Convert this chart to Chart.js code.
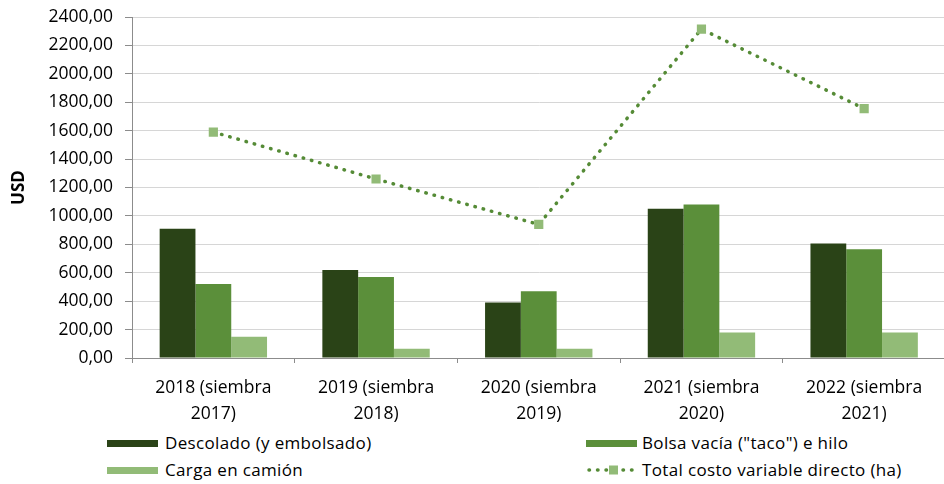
<!DOCTYPE html>
<html>
<head>
<meta charset="utf-8">
<script src="https://cdn.jsdelivr.net/npm/chart.js@4"></script>
<style>
  html, body { margin: 0; padding: 0; background: #fff; overflow: hidden; }
  #wrap { position: relative; width: 944px; height: 484px; overflow: hidden; }
  #chart { position: absolute; left: 0; top: 0; }
  .leg { position: absolute; font-family: "Open Sans", sans-serif; font-size: 17px; letter-spacing: 0.35px; color: #000; line-height: 20px; white-space: nowrap; }
  .box { position: absolute; height: 7px; width: 51px; }
</style>
</head>
<body>
<div id="wrap">
  <canvas id="chart" width="952" height="425"></canvas>
  <div class="box" style="left:107px;top:440px;background:#2a4317"></div>
  <div class="leg" style="left:165px;top:433px">Descolado (y embolsado)</div>
  <div class="box" style="left:107px;top:467px;background:#92bb77"></div>
  <div class="leg" style="left:165px;top:460px">Carga en camión</div>
  <div class="box" style="left:586px;top:440px;background:#5b8f3a"></div>
  <div class="leg" style="left:642px;top:433px">Bolsa vacía ("taco") e hilo</div>
  <canvas id="legline" width="52" height="14" style="position:absolute;left:586px;top:463px"></canvas>
  <div class="leg" style="left:642px;top:460px">Total costo variable directo (ha)</div>
</div>
<script>
const categories = [
  ["2018 (siembra", "2017)"],
  ["2019 (siembra", "2018)"],
  ["2020 (siembra", "2019)"],
  ["2021 (siembra", "2020)"],
  ["2022 (siembra", "2021)"],
];
const descolado = [910, 620, 390, 1050, 805];
const bolsaVacia = [520, 570, 470, 1080, 765];
const cargaCamion = [150, 65, 65, 180, 180];
const totalCosto = [1590, 1260, 940, 2315, 1755];

const DARK = "#2a4317";
const MID = "#5b8f3a";
const LIGHT = "#92bb77";
const LINE = "#558b36";

function fmt(v) {
  return v.toFixed(2).replace(".", ",");
}

const ctx = document.getElementById("chart");
const myChart = new Chart(ctx, {
  type: "bar",
  data: {
    labels: categories,
    datasets: [
      {
        type: "line",
        label: "Total costo variable directo (ha)",
        data: totalCosto,
        borderColor: LINE,
        borderWidth: 3.5,
        borderDash: [0.5, 8],
        borderCapStyle: "round",
        fill: false,
        pointStyle: "rect",
        pointRadius: 6.5,
        pointBackgroundColor: LIGHT,
        pointBorderWidth: 0,
        tension: 0,
        order: 0,
      },
      { label: "Descolado (y embolsado)", data: descolado, backgroundColor: DARK, order: 1 },
      { label: 'Bolsa vacía ("taco") e hilo', data: bolsaVacia, backgroundColor: MID, order: 1 },
      { label: "Carga en camión", data: cargaCamion, backgroundColor: LIGHT, order: 1 },
    ],
  },
  options: {
    responsive: false,
    animation: false,
    devicePixelRatio: 1,
    categoryPercentage: 0.66,
    barPercentage: 1,
    layout: { padding: { top: 17, right: 2, left: 0, bottom: 0 } },
    plugins: {
      legend: { display: false },
      tooltip: { enabled: false },
    },
    scales: {
      x: {
        grid: {
          display: true,
          drawOnChartArea: false,
          drawTicks: true,
          tickLength: 5,
          tickColor: "#8c8c8c",
          offset: true,
        },
        border: { color: "#8c8c8c", width: 1 },
        ticks: {
          color: "#000",
          padding: 12,
          maxRotation: 0,
          autoSkip: false,
          font: { family: "Open Sans", size: 17.5, lineHeight: 1.5 },
        },
        afterFit: (s) => { s.height = 67; },
      },
      y: {
        min: 0,
        max: 2400,
        ticks: {
          stepSize: 200,
          color: "#000",
          padding: 12,
          font: { family: "Open Sans", size: 17.5 },
          callback: (v) => fmt(v),
        },
        grid: {
          color: "#d6d6d6",
          lineWidth: 1,
          tickLength: 7,
          tickColor: "#8c8c8c",
        },
        border: { color: "#8c8c8c", width: 1 },
        title: {
          display: true,
          text: "USD",
          color: "#000",
          padding: { top: 9, bottom: 0 },
          font: { family: "Open Sans", size: 17, weight: "bold" },
        },
        afterFit: (s) => {
          s.width = 132;
          s.paddingTop = 0;
          s.paddingBottom = 0;
        },
      },
    },
  },
});

// legend sample for the dotted line
const lc = document.getElementById("legline").getContext("2d");
lc.strokeStyle = LINE;
lc.lineWidth = 3.5;
lc.lineCap = "round";
lc.setLineDash([0.5, 8]);
lc.beginPath();
lc.moveTo(3, 7);
lc.lineTo(50, 7);
lc.stroke();
lc.fillStyle = LIGHT;
lc.fillRect(23, 2.5, 9, 9);
</script>
</body>
</html>
